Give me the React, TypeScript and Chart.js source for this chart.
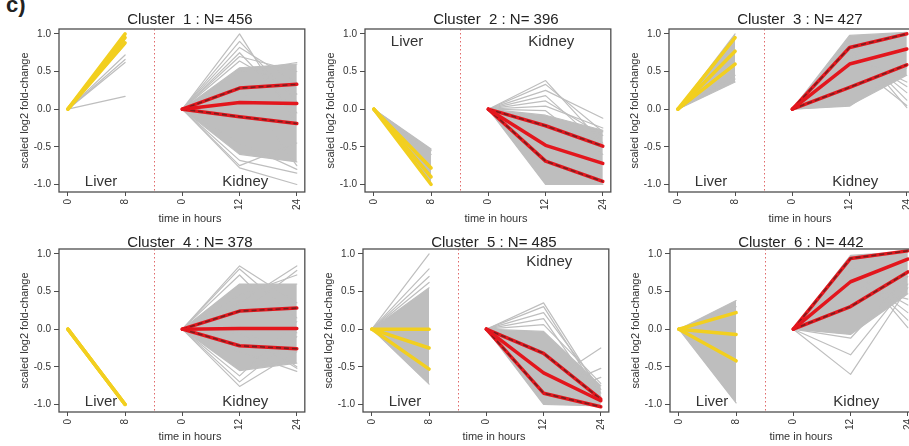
import React, { useEffect, useRef } from "react";
import { Chart, registerables } from "chart.js";

Chart.register(...registerables);

// ---------------- data ----------------
const CLUSTER_IDS = [1, 2, 3, 4, 5, 6];
const CLUSTER_SIZES = [456, 396, 427, 378, 485, 442];

// x positions: liver 0h, liver 8h | kidney 0h, 12h, 24h
const LIVER_X = [0, 1];
const KIDNEY_X = [2, 3, 4];
const SEPARATOR_X = 1.5;
const X_TICK_VALUES = [0, 1, 2, 3, 4];
const X_TICK_LABELS = ["0", "8", "0", "12", "24"];
const Y_TICK_VALUES = [-1, -0.5, 0, 0.5, 1];
const X_MIN = -0.155;
const X_MAX = 4.14;
const Y_MIN = -1.1;
const Y_MAX = 1.065;

// liver: values at 0h and 8h
const LIVER_BAND_LO = [[0, 0.86], [0, -1.0], [0, 0.36], [0, -1.0], [0, -0.73], [0, -0.98]];
const LIVER_BAND_HI = [[0, 1.0], [0, -0.53], [0, 1.0], [0, -1.0], [0, 0.55], [0, 0.38]];
const LIVER_GRAY = [
  [[0, 0.72], [0, 0.66], [0, 0.62], [0, 0.17]],
  [[0, -0.55], [0, -0.6]],
  [[0, 0.4], [0, 0.45]],
  [[0, -1.0]],
  [[0, 1.0], [0, 0.8], [0, 0.7], [0, 0.62]],
  [[0, 0.3]],
];
const LIVER_Q75 = [[0, 1.0], [0, -0.78], [0, 0.95], [0, -1.0], [0, 0.0], [0, 0.22]];
const LIVER_MEDIAN = [[0, 0.95], [0, -0.9], [0, 0.77], [0, -1.0], [0, -0.25], [0, -0.07]];
const LIVER_Q25 = [[0, 0.88], [0, -1.0], [0, 0.6], [0, -1.0], [0, -0.53], [0, -0.42]];

// kidney: values at 0h, 12h, 24h
const KIDNEY_BAND_HI = [[0, 0.55, 0.6], [0, -0.08, -0.28], [0, 0.98, 1.02], [0, 0.6, 0.6], [0, -0.03, -0.75], [0, 0.98, 1.03]];
const KIDNEY_BAND_LO = [[0, -0.6, -0.7], [0, -1.0, -1.0], [0, 0.05, 0.45], [0, -0.55, -0.45], [0, -1.0, -1.02], [0, -0.07, 0.47]];
const KIDNEY_GRAY = [
  [[0, 1.0, -0.2], [0, 0.9, 0.1], [0, 0.82, 0.35], [0, 0.75, -0.05], [0, 0.7, 0.5], [0, 0.64, 0.2], [0, 0.5, 0.62],
   [0, -0.78, -1.0], [0, -0.75, -0.45], [0, -0.68, -0.85], [0, -0.45, -0.8], [0, 0.3, -0.75]],
  [[0, 0.38, -0.45], [0, 0.33, -0.3], [0, 0.25, -0.12], [0, 0.18, -0.5], [0, 0.11, -0.35], [0, 0.04, -0.25], [0, -0.02, -0.6]],
  [[0, 0.92, 0.02], [0, 0.88, 0.12], [0, 0.83, 0.22], [0, 0.78, 0.3], [0, 0.72, 0.36], [0, 0.65, 0.05], [0, 0.04, 0.55]],
  [[0, 0.84, 0.35], [0, 0.8, 0.15], [0, 0.72, -0.05], [0, 0.35, 0.84], [0, 0.2, 0.78], [0, 0.45, 0.72],
   [0, -0.76, -0.3], [0, -0.7, -0.1], [0, -0.62, 0.1], [0, -0.3, -0.56], [0, -0.05, -0.52], [0, 0.05, -0.5]],
  [[0, 0.35, -0.85], [0, 0.3, -0.9], [0, 0.22, -0.8], [0, 0.14, -0.95], [0, 0.06, -0.72], [0, -0.75, -0.25], [0, -0.85, -0.52], [0, -0.92, -0.64]],
  [[0, -0.34, 0.6], [0, -0.6, 0.55], [0, -0.12, 0.7], [0, 0.92, 0.02], [0, 0.85, 0.12], [0, 0.8, 0.22], [0, 0.75, 0.32], [0, 0.6, 0.4]],
];
const KIDNEY_MEDIAN = [[0, 0.09, 0.075], [0, -0.48, -0.72], [0, 0.6, 0.8], [0, 0.01, 0.01], [0, -0.58, -0.95], [0, 0.63, 0.93]];
const KIDNEY_Q75 = [[0, 0.28, 0.33], [0, -0.22, -0.49], [0, 0.82, 1.0], [0, 0.24, 0.28], [0, -0.32, -0.93], [0, 0.94, 1.04]];
const KIDNEY_Q25 = [[0, -0.1, -0.19], [0, -0.69, -0.96], [0, 0.29, 0.59], [0, -0.22, -0.26], [0, -0.85, -1.03], [0, 0.3, 0.76]];

const LIVER_LABEL_TOP = [false, true, false, false, false, false];
const KIDNEY_LABEL_TOP = [false, true, false, false, true, false];

// ---------------- layout / style ----------------
const FONT = '"Liberation Sans", Arial, Helvetica, sans-serif';
const CW = 297;
const CH = 225;
const PANEL_LEFT = [15, 321, 625, 15, 319, 626];
const PANEL_TOP = [1, 1, 1, 221, 221, 221];
const TITLE_GAP = [5.5, 5.5, 5.5, 2.5, 2.5, 2.5];
const XLAB_GAP = [27, 27, 27, 24.5, 24.5, 24.5];
const GRAY = "#bebebe";
const YELLOW = "#f2cf1f";
const RED = "#e3161d";
const DARK = "#7a1e1e";
const AXIS = "#4d4d4d";

function pts(xs: number[], ys: number[]) {
  return xs.map((x, k) => ({ x, y: ys[k] }));
}

function makeDecor(i: number) {
  return {
    id: "decor" + i,
    beforeDatasetsDraw(chart: any) {
      const { ctx, chartArea: a, scales } = chart;
      const px = Math.round(scales.x.getPixelForValue(SEPARATOR_X)) + 0.5;
      ctx.save();
      ctx.strokeStyle = "#e06a6a";
      ctx.lineWidth = 1;
      ctx.setLineDash([1.5, 2.5]);
      ctx.beginPath();
      ctx.moveTo(px, a.top);
      ctx.lineTo(px, a.bottom);
      ctx.stroke();
      ctx.restore();
    },
    afterDraw(chart: any) {
      const { ctx, chartArea: a, scales } = chart;
      const xs = scales.x;
      const ys = scales.y;
      ctx.save();
      // frame
      ctx.strokeStyle = AXIS;
      ctx.lineWidth = 1.3;
      ctx.strokeRect(a.left, a.top, a.right - a.left, a.bottom - a.top);
      // title
      const cx = (a.left + a.right) / 2 + 8;
      ctx.fillStyle = "#222";
      ctx.font = `15px ${FONT}`;
      ctx.textAlign = "center";
      ctx.textBaseline = "alphabetic";
      ctx.fillText(`Cluster  ${CLUSTER_IDS[i]} : N= ${CLUSTER_SIZES[i]}`, cx, a.top - TITLE_GAP[i]);
      // tissue labels
      ctx.fillStyle = "#333";
      ctx.textBaseline = "middle";
      ctx.fillText("Liver", xs.getPixelForValue(0.58), ys.getPixelForValue(LIVER_LABEL_TOP[i] ? 0.9 : -0.97));
      ctx.fillText("Kidney", xs.getPixelForValue(3.1), ys.getPixelForValue(KIDNEY_LABEL_TOP[i] ? 0.9 : -0.97));
      // x axis label
      ctx.fillStyle = "#333";
      ctx.font = `11px ${FONT}`;
      ctx.fillText("time in hours", cx, a.bottom + XLAB_GAP[i]);
      // y axis label
      ctx.translate(a.left - 34, (a.top + a.bottom) / 2);
      ctx.rotate(-Math.PI / 2);
      ctx.fillText("scaled log2 fold-change", 0, 0);
      ctx.restore();
    },
  };
}

function buildConfig(i: number): any {
  const base = { pointRadius: 0, tension: 0, borderCapStyle: "round", borderJoinStyle: "round", fill: false };
  const ds: any[] = [];
  // gray envelope bands
  ds.push({ ...base, data: pts(LIVER_X, LIVER_BAND_LO[i]), borderColor: GRAY, borderWidth: 1.2 });
  ds.push({ ...base, data: pts(LIVER_X, LIVER_BAND_HI[i]), borderColor: GRAY, borderWidth: 1.2, fill: "-1", backgroundColor: GRAY });
  ds.push({ ...base, data: pts(KIDNEY_X, KIDNEY_BAND_LO[i]), borderColor: GRAY, borderWidth: 1.2 });
  ds.push({ ...base, data: pts(KIDNEY_X, KIDNEY_BAND_HI[i]), borderColor: GRAY, borderWidth: 1.2, fill: "-1", backgroundColor: GRAY });
  // individual gray genes
  LIVER_GRAY[i].forEach((g) => ds.push({ ...base, data: pts(LIVER_X, g), borderColor: GRAY, borderWidth: 1.2 }));
  KIDNEY_GRAY[i].forEach((g) => ds.push({ ...base, data: pts(KIDNEY_X, g), borderColor: GRAY, borderWidth: 1.2 }));
  // liver quartiles (yellow)
  [LIVER_Q25[i], LIVER_MEDIAN[i], LIVER_Q75[i]].forEach((q) =>
    ds.push({ ...base, data: pts(LIVER_X, q), borderColor: YELLOW, borderWidth: 3.5 })
  );
  // kidney quartiles (red; outer quartiles dashed)
  [KIDNEY_Q25[i], KIDNEY_Q75[i]].forEach((q) => {
    ds.push({ ...base, data: pts(KIDNEY_X, q), borderColor: RED, borderWidth: 3.5 });
    ds.push({ ...base, data: pts(KIDNEY_X, q), borderColor: DARK, borderWidth: 1.6, borderDash: [5, 3], borderCapStyle: "butt" });
  });
  ds.push({ ...base, data: pts(KIDNEY_X, KIDNEY_MEDIAN[i]), borderColor: RED, borderWidth: 3.5 });
  ds.forEach((d, k) => (d.order = ds.length - k));

  return {
    type: "line",
    data: { datasets: ds },
    options: {
      responsive: false,
      animation: false,
      devicePixelRatio: 1,
      layout: { padding: { top: 28, right: 6, left: 0, bottom: 0 } },
      plugins: { legend: { display: false }, tooltip: { enabled: false }, title: { display: false } },
      scales: {
        x: {
          type: "linear",
          min: X_MIN,
          max: X_MAX,
          afterBuildTicks: (s: any) => {
            s.ticks = X_TICK_VALUES.map((v) => ({ value: v }));
          },
          afterFit: (s: any) => {
            s.height = 34;
          },
          ticks: {
            autoSkip: false,
            minRotation: 90,
            maxRotation: 90,
            padding: 3,
            color: "#333",
            font: { family: FONT, size: 10 },
            callback: (v: any) => {
              const k = X_TICK_VALUES.indexOf(Number(v));
              return k >= 0 ? X_TICK_LABELS[k] : "";
            },
          },
          grid: { display: true, drawOnChartArea: false, drawTicks: true, tickLength: 4, color: AXIS, lineWidth: 1 },
          border: { display: false },
        },
        y: {
          type: "linear",
          min: Y_MIN,
          max: Y_MAX,
          afterBuildTicks: (s: any) => {
            s.ticks = Y_TICK_VALUES.map((v) => ({ value: v }));
          },
          afterFit: (s: any) => {
            s.width = 44;
          },
          ticks: {
            autoSkip: false,
            padding: 3,
            color: "#333",
            font: { family: FONT, size: 10 },
            callback: (v: any) => Number(v).toFixed(1),
          },
          grid: { display: true, drawOnChartArea: false, drawTicks: true, tickLength: 5, color: AXIS, lineWidth: 1 },
          border: { display: false },
        },
      },
    },
    plugins: [makeDecor(i)],
  };
}

function Panel({ index }: { index: number }) {
  const ref = useRef<HTMLCanvasElement | null>(null);
  useEffect(() => {
    const chart = new Chart(ref.current as HTMLCanvasElement, buildConfig(index));
    return () => chart.destroy();
  }, [index]);
  return (
    <canvas
      ref={ref}
      width={CW}
      height={CH}
      style={{ position: "absolute", left: PANEL_LEFT[index], top: PANEL_TOP[index], width: CW, height: CH }}
    />
  );
}

export default function App() {
  return (
    <div
      style={{
        position: "absolute",
        left: 0,
        top: 0,
        width: 909,
        height: 446,
        overflow: "hidden",
        background: "#fff",
      }}
    >
      <div
        style={{
          position: "absolute",
          left: 6,
          top: -6,
          font: `bold 22px ${FONT}`,
          lineHeight: "22px",
          color: "#222",
        }}
      >
        c)
      </div>
      {CLUSTER_IDS.map((_, i) => (
        <Panel key={i} index={i} />
      ))}
    </div>
  );
}
